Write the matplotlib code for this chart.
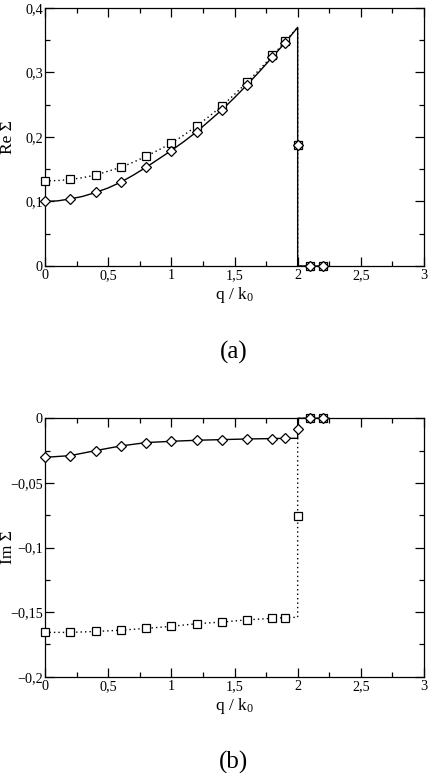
import matplotlib
matplotlib.use("Agg")
import matplotlib.pyplot as plt
from matplotlib.ticker import MultipleLocator, FuncFormatter

plt.rcParams['font.family'] = ['Liberation Serif', 'DejaVu Serif']
plt.rcParams['mathtext.fontset'] = 'custom'
plt.rcParams['mathtext.rm'] = 'Liberation Serif'
plt.rcParams['mathtext.it'] = 'Liberation Serif'

# ---- data: sampled points ----
q_pts = [0.0, 0.2, 0.4, 0.6, 0.8, 1.0, 1.2, 1.4, 1.6, 1.8, 1.9, 2.0, 2.1, 2.2]
re_diamond = [0.101, 0.104, 0.114, 0.130, 0.153, 0.179, 0.2085, 0.242, 0.281, 0.324, 0.3457, 0.187, 0.0, 0.0]
re_square = [0.132, 0.1345, 0.141, 0.153, 0.170, 0.190, 0.217, 0.248, 0.285, 0.3265, 0.349, 0.187, 0.0, 0.0]
im_diamond = [-0.0302, -0.0289, -0.0250, -0.0214, -0.0188, -0.0178, -0.0170, -0.0165, -0.0160, -0.0157, -0.0155, -0.0080, 0.0, 0.0]
im_square = [-0.1657, -0.1657, -0.1650, -0.1640, -0.1626, -0.1610, -0.1590, -0.1577, -0.1560, -0.1548, -0.1543, -0.0759, 0.0, 0.0]

# ---- data: curves ----
q_curve = [0.0, 0.1, 0.2, 0.3, 0.4, 0.5, 0.6, 0.7, 0.8, 0.9, 1.0, 1.1, 1.2, 1.3, 1.4,
           1.5, 1.6, 1.7, 1.8, 1.9, 2.0, 2.0, 2.2]
re_solid = [0.100, 0.101, 0.104, 0.108, 0.114, 0.121, 0.130, 0.141, 0.153, 0.166, 0.179,
            0.193, 0.208, 0.225, 0.242, 0.261, 0.281, 0.302, 0.324, 0.346, 0.370, 0.0, 0.0]
re_dotted = [0.132, 0.1325, 0.134, 0.137, 0.141, 0.147, 0.153, 0.161, 0.170, 0.180, 0.190,
             0.203, 0.217, 0.232, 0.248, 0.266, 0.285, 0.305, 0.326, 0.348, 0.370, 0.0, 0.0]

q_im_curve = [0.0, 0.2, 0.4, 0.6, 0.8, 1.0, 1.2, 1.4, 1.6, 1.8, 1.9, 2.0, 2.0, 2.25]
im_solid = [-0.0302, -0.0289, -0.0250, -0.0214, -0.0188, -0.0178, -0.0170, -0.0165,
            -0.0160, -0.0157, -0.0155, -0.0155, 0.0, 0.0]
im_dotted = [-0.1657, -0.1657, -0.1650, -0.1640, -0.1626, -0.1610, -0.1590, -0.1577,
             -0.1560, -0.1548, -0.1543, -0.1540, 0.0, 0.0]

x_label = r"q / k$_0$"
ylabel_a = "Re Σ"
ylabel_b = "Im Σ"
panel_a = "(a)"
panel_b = "(b)"


def comma_fmt(v, pos):
    if abs(v) < 1e-12:
        return "0"
    s = "%g" % v
    s = s.replace(".", ",").replace("-", "\u2212")
    return s


fig = plt.figure(figsize=(4.29, 7.73), dpi=100)
ax1 = fig.add_axes([45 / 429, 1 - 266 / 773, 379 / 429, 258 / 773])
ax2 = fig.add_axes([45 / 429, 1 - 676.7 / 773, 379 / 429, 258.4 / 773])

dot_style = (0, (1, 2.2))
mk_common = dict(linestyle='none', markerfacecolor='white', markeredgecolor='black',
                 markeredgewidth=0.9, clip_on=False, zorder=5)

ax1.plot(q_curve, re_solid, color='black', lw=1.0, clip_on=False)
ax1.plot(q_curve, re_dotted, color='black', lw=1.0, linestyle=dot_style, clip_on=False)
ax1.plot(q_pts, re_square, marker='s', markersize=5.4, **mk_common)
ax1.plot(q_pts, re_diamond, marker='D', markersize=4.8, **mk_common)

ax2.plot(q_im_curve, im_solid, color='black', lw=1.0, clip_on=False)
ax2.plot(q_im_curve, im_dotted, color='black', lw=1.0, linestyle=dot_style, clip_on=False)
ax2.plot(q_pts, im_square, marker='s', markersize=5.4, **mk_common)
ax2.plot(q_pts, im_diamond, marker='D', markersize=4.8, **mk_common)

ax1.set_xlim(0, 3)
ax1.set_ylim(0, 0.4)
ax2.set_xlim(0, 3)
ax2.set_ylim(-0.2, 0)

ax1.yaxis.set_major_locator(MultipleLocator(0.1))
ax1.yaxis.set_minor_locator(MultipleLocator(0.05))
ax2.yaxis.set_major_locator(MultipleLocator(0.05))
ax2.yaxis.set_minor_locator(MultipleLocator(0.025))

for ax, yl in ((ax1, ylabel_a), (ax2, ylabel_b)):
    ax.xaxis.set_major_locator(MultipleLocator(0.5))
    ax.xaxis.set_minor_locator(MultipleLocator(0.25))
    ax.xaxis.set_major_formatter(FuncFormatter(comma_fmt))
    ax.yaxis.set_major_formatter(FuncFormatter(comma_fmt))
    ax.tick_params(which='both', direction='in', top=True, right=True,
                   labelsize=10.2, width=0.9)
    ax.tick_params(axis='y', pad=1.5)
    ax.tick_params(axis='x', pad=2.5)
    ax.tick_params(which='major', length=6.5)
    ax.tick_params(which='minor', length=3.5)
    for s in ax.spines.values():
        s.set_linewidth(0.9)
    ax.set_xlabel(x_label, fontsize=12.5, labelpad=2)
    ax.set_ylabel(yl, fontsize=12.5, va='center')
    ax.yaxis.set_label_coords(-0.097, 0.5)

fig.text(234 / 429, 1 - 352 / 773, panel_a, ha='center', va='center', fontsize=18)
fig.text(234 / 429, 1 - 762 / 773, panel_b, ha='center', va='center', fontsize=18)

fig.savefig("out.png", dpi=100)
